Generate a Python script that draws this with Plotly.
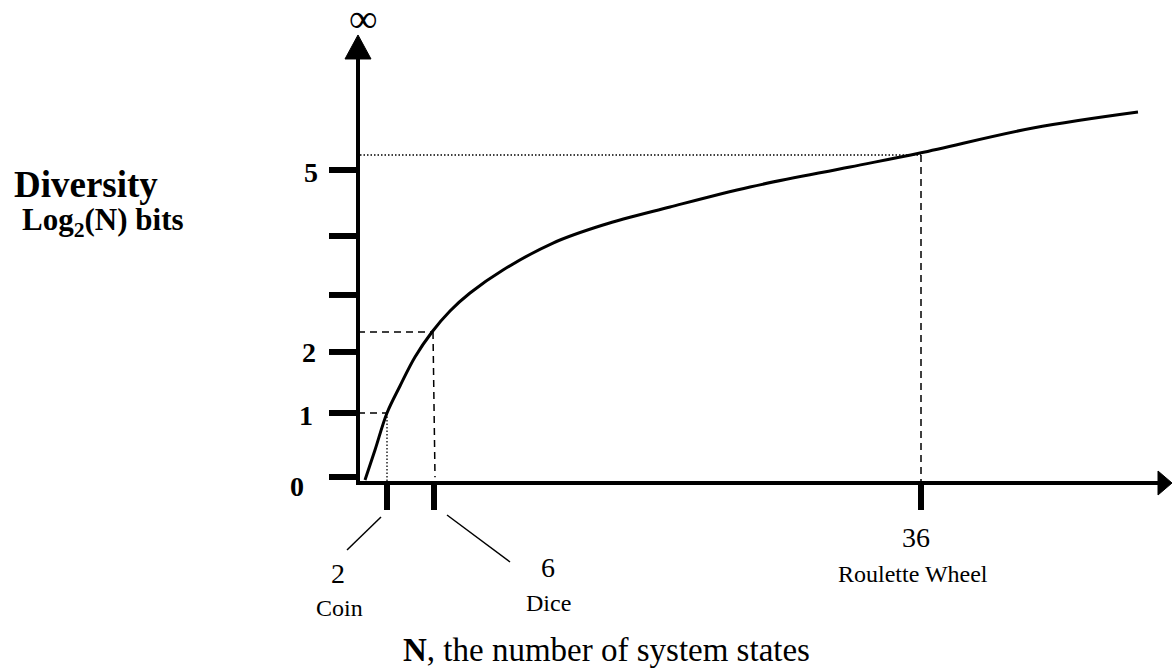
import plotly.graph_objects as go

# ---- data (schematic diagram units: x = position along N axis, y = diversity in bits) ----
curve_x = [0.7, 1.7, 2.9, 4.2, 5.7, 7.4, 9.2, 11.2, 14.5, 19.5, 24.5, 31.2, 39.2, 49.2, 56.2, 67.5, 78.0]
curve_y = [-0.117, 0.383, 1.0, 1.45, 1.933, 2.35, 2.7, 3.0, 3.383, 3.833, 4.133, 4.433, 4.767, 5.1, 5.333, 5.75, 6.017]

y_tick_pos = [-0.067, 1.0, 2.017, 2.967, 3.95, 5.05]
y_tick_labels = ["0", "1", "2", "", "", "5"]

x_tick_pos = [2.9, 7.6, 56.3]          # positions of N = 2, 6, 36
x_tick_values = ["2", "6", "36"]
x_tick_names = ["Coin", "Dice", "Roulette Wheel"]
marked_bits = [1.0, 2.35, 5.3]          # curve heights at the marked N

FONT = "Liberation Serif"
X_RANGE = [-35.8, 81.4]
Y_RANGE = [-3.25, 7.883]
AX_Y = -0.167      # height of the N axis
Y_TOP = 6.9        # top of the vertical axis (arrow base)

fig = go.Figure()

# curve
fig.add_trace(go.Scatter(x=curve_x, y=curve_y, mode="lines", line=dict(color="black", width=3, shape="spline"),
                         hoverinfo="skip", showlegend=False))

# arrow heads
fig.add_trace(go.Scatter(x=[-1.3, 1.3, 0, -1.3], y=[Y_TOP, Y_TOP, Y_TOP + 0.4, Y_TOP], fill="toself",
                         fillcolor="black", line=dict(color="black", width=1), mode="lines",
                         hoverinfo="skip", showlegend=False))
fig.add_trace(go.Scatter(x=[80.0, 80.0, 81.4, 80.0], y=[AX_Y - 0.2, AX_Y + 0.2, AX_Y, AX_Y - 0.2], fill="toself",
                         fillcolor="black", line=dict(color="black", width=1), mode="lines",
                         hoverinfo="skip", showlegend=False))

shapes = []
# axes
shapes.append(dict(type="line", x0=0, x1=0, y0=AX_Y, y1=Y_TOP, line=dict(color="black", width=4)))
shapes.append(dict(type="line", x0=-0.2, x1=80.0, y0=AX_Y, y1=AX_Y, line=dict(color="black", width=4)))

# y ticks
for yp in y_tick_pos:
    shapes.append(dict(type="line", x0=-2.9, x1=0, y0=yp, y1=yp, line=dict(color="black", width=6)))
# x ticks
for xp in x_tick_pos:
    shapes.append(dict(type="line", x0=xp, x1=xp, y0=AX_Y, y1=-0.617, line=dict(color="black", width=6)))

dash = "7px,5px"
dot = "1.5px,2px"
# Coin guides
shapes.append(dict(type="line", x0=0, x1=x_tick_pos[0], y0=marked_bits[0], y1=marked_bits[0],
                   line=dict(color="black", width=1.5, dash=dash)))
shapes.append(dict(type="line", x0=x_tick_pos[0], x1=x_tick_pos[0], y0=marked_bits[0], y1=AX_Y,
                   line=dict(color="black", width=1.3, dash=dot)))
# Dice guides
shapes.append(dict(type="line", x0=0, x1=x_tick_pos[1] - 0.1, y0=marked_bits[1], y1=marked_bits[1],
                   line=dict(color="black", width=1.5, dash=dash)))
shapes.append(dict(type="line", x0=x_tick_pos[1] - 0.1, x1=x_tick_pos[1] + 0.1, y0=marked_bits[1], y1=-0.07,
                   line=dict(color="black", width=1.5, dash=dash)))
# Roulette guides
shapes.append(dict(type="line", x0=0.2, x1=x_tick_pos[2], y0=marked_bits[2], y1=marked_bits[2],
                   line=dict(color="black", width=1.3, dash=dot)))
shapes.append(dict(type="line", x0=x_tick_pos[2], x1=x_tick_pos[2], y0=marked_bits[2], y1=AX_Y,
                   line=dict(color="black", width=1.5, dash=dash)))
# leader lines
shapes.append(dict(type="line", x0=2.3, x1=-1.1, y0=-0.733, y1=-1.283, line=dict(color="black", width=1.5)))
shapes.append(dict(type="line", x0=8.9, x1=15.2, y0=-0.7, y1=-1.483, line=dict(color="black", width=1.5)))

ann = []
def txt(x, y, s, size, bold=False, xanchor="center"):
    ann.append(dict(x=x, y=y, xref="x", yref="y", text=(f"<b>{s}</b>" if bold else s), showarrow=False,
                    xanchor=xanchor, yanchor="middle", font=dict(family=FONT, size=size, color="black")))

# y tick labels
y_label_x = [-6.1, -5.2, -4.9, -4.9, -4.9, -4.7]
y_label_y = [-0.233, 0.95, 2.0, 2.967, 3.95, 5.0]
for lx, ly, s in zip(y_label_x, y_label_y, y_tick_labels):
    if s:
        txt(lx, ly, s, 28, bold=True)

# x tick labels
val_x = [-2.0, 19.0, 55.8]
val_y = [-1.667, -1.583, -1.083]
name_x = [-1.9, 19.0, 55.5]
name_y = [-2.25, -2.167, -1.683]
for vx, vy, nx, ny, v, n in zip(val_x, val_y, name_x, name_y, x_tick_values, x_tick_names):
    txt(vx, vy, v, 28)
    txt(nx, ny, n, 24)

ann.append(dict(x=0.5, y=Y_RANGE[1], xref="x", yref="y", text="∞", showarrow=False,
                xanchor="center", yanchor="top", yshift=6,
                font=dict(family=FONT, size=40, color="black")))
txt(-34.6, 4.8, "Diversity", 37, bold=True, xanchor="left")
txt(-33.8, 4.18, "Log<sub>2</sub>(N) bits", 31, bold=True, xanchor="left")
txt(24.8, -2.95, "<b>N</b>, the number of system states", 33)

fig.update_layout(
    width=1172, height=668, margin=dict(l=0, r=0, t=0, b=0),
    paper_bgcolor="white", plot_bgcolor="white",
    xaxis=dict(range=X_RANGE, visible=False, fixedrange=True),
    yaxis=dict(range=Y_RANGE, visible=False, fixedrange=True),
    shapes=shapes, annotations=ann, showlegend=False,
)

fig.write_html("out.html", config={"displayModeBar": False},
               post_script="document.body.style.margin='0';document.body.style.overflow='hidden';")
